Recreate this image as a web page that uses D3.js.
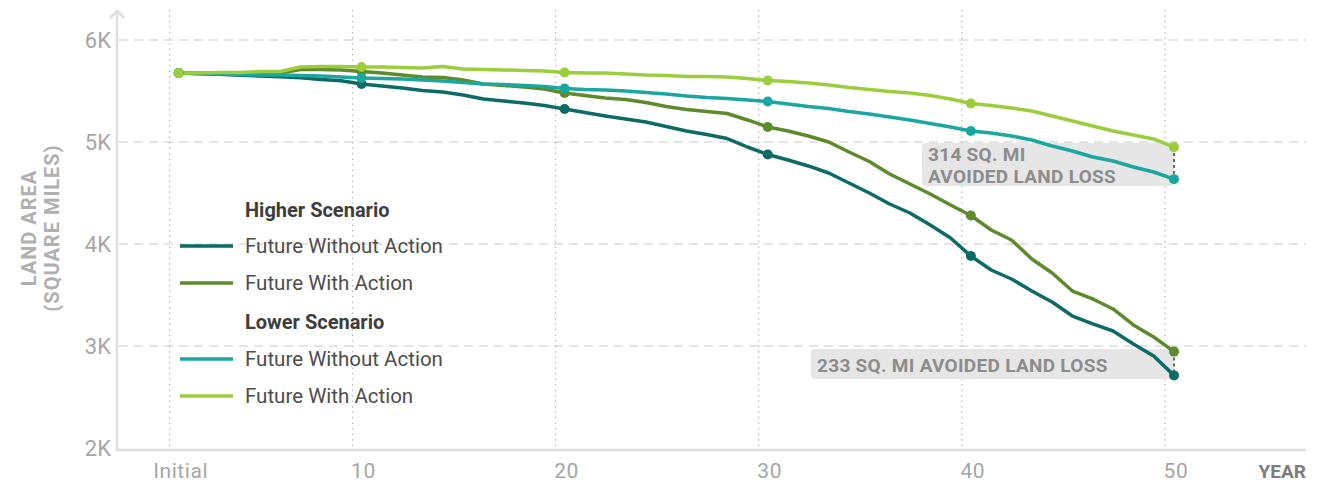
<!DOCTYPE html>
<html><head><meta charset="utf-8">
<script src="https://cdn.jsdelivr.net/npm/d3@7"></script>
<style>
html,body{margin:0;padding:0;background:#fff;}
svg{display:block;font-family:Roboto,"Open Sans",sans-serif;}
</style></head>
<body><svg id="chart" width="1320" height="486"></svg>
<script>
const years = d3.range(1, 51);
const markerYears = [1, 10, 20, 30, 40, 50];
const xTickLabels = ["Initial", "10", "20", "30", "40", "50"];
const yTicks = [2000, 3000, 4000, 5000, 6000];
const yTickLabels = ["2K", "3K", "4K", "5K", "6K"];

const higherWithout = [5676,5670,5664,5655,5648,5640,5630,5612,5600,5569,
  5549,5529,5505,5490,5461,5422,5402,5382,5358,5324,
  5289,5255,5225,5196,5152,5108,5074,5034,4951,4877,
  4824,4765,4696,4598,4500,4392,4304,4186,4059,3882,
  3745,3657,3539,3431,3294,3216,3147,3020,2902,2712];
const higherWith = [5676,5676,5676,5676,5681,5676,5711,5711,5706,5691,
  5676,5657,5637,5632,5608,5569,5554,5539,5520,5480,
  5456,5431,5417,5387,5348,5319,5299,5279,5216,5147,
  5108,5059,5000,4902,4809,4686,4588,4490,4382,4279,
  4137,4039,3853,3716,3539,3461,3363,3206,3088,2945];
const lowerWithout = [5676,5671,5667,5662,5657,5657,5652,5647,5637,5627,
  5622,5618,5608,5598,5583,5569,5564,5554,5544,5525,
  5515,5510,5500,5485,5471,5451,5436,5426,5412,5397,
  5373,5348,5328,5299,5275,5245,5216,5181,5147,5108,
  5088,5059,5020,4961,4912,4853,4814,4755,4706,4636];
const lowerWith = [5676,5676,5681,5681,5691,5691,5735,5740,5740,5735,
  5735,5730,5725,5740,5716,5711,5706,5701,5696,5681,
  5676,5676,5667,5657,5652,5642,5642,5637,5622,5603,
  5593,5578,5559,5534,5515,5495,5480,5456,5422,5377,
  5358,5333,5304,5255,5206,5157,5108,5069,5030,4950];

const seriesNames = ["Higher Without","Higher With","Lower Without","Lower With"];
const seriesColors = ["#0d6b66","#5d8a2b","#19a7a0","#9ccd3c"];
const legendGroups = ["Higher Scenario","Lower Scenario"];
const legendLabels = ["Future Without Action","Future With Action"];
const annotations = [
  {lines:["314 SQ. MI","AVOIDED LAND LOSS"], top:3, bottom:2},
  {lines:["233 SQ. MI AVOIDED LAND LOSS"], top:1, bottom:0}
];

const allSeries = [higherWithout, higherWith, lowerWithout, lowerWith];

const svg = d3.select("#chart");
const x = d3.scaleLinear().domain([1, 50]).range([178.7, 1174]);
const y = d3.scaleLinear().domain([2000, 6000]).range([448, 40]);

// horizontal dashed gridlines
svg.append("g").selectAll("line").data(yTicks.filter(d => d > 2000)).join("line")
  .attr("x1", 119).attr("x2", 1306)
  .attr("y1", d => y(d)).attr("y2", d => y(d))
  .attr("stroke", "#dcdcdc").attr("stroke-width", 1.5).attr("stroke-dasharray", "9,6");

// vertical dotted gridlines (offset left of the tick)
svg.append("g").selectAll("line").data(markerYears).join("line")
  .attr("x1", d => x(d) - 9).attr("x2", d => x(d) - 9)
  .attr("y1", 10).attr("y2", 449)
  .attr("stroke", "#b8b8b8").attr("stroke-width", 1.2).attr("stroke-dasharray", "1.5,4");

// axes lines
svg.append("line").attr("x1", 117).attr("x2", 117).attr("y1", 11).attr("y2", 451)
  .attr("stroke", "#dedede").attr("stroke-width", 2.5);
svg.append("path").attr("d", "M110,18 L117,11 L124,18").attr("fill", "none")
  .attr("stroke", "#dedede").attr("stroke-width", 2.5);
svg.append("line").attr("x1", 116).attr("x2", 1306).attr("y1", 450).attr("y2", 450)
  .attr("stroke", "#dedede").attr("stroke-width", 2.5);

// y tick labels
svg.append("g").selectAll("text").data(yTicks).join("text")
  .attr("x", 111).attr("y", d => y(d) + 8)
  .attr("text-anchor", "end").attr("font-size", 22).attr("fill", "#a6a6a6")
  .text((d, i) => yTickLabels[i]);

// x tick labels
svg.append("g").selectAll("text").data(markerYears).join("text")
  .attr("x", d => x(d) + 2).attr("y", 478)
  .attr("text-anchor", "middle").attr("font-size", 21).attr("fill", "#a6a6a6")
  .attr("letter-spacing", 0.6)
  .text((d, i) => xTickLabels[i]);
svg.append("text").attr("x", 1306).attr("y", 478).attr("text-anchor", "end")
  .attr("font-size", 19).attr("font-weight", 700).attr("fill", "#7d7d7d").text("YEAR");

// y axis title
const yt = svg.append("text").attr("transform", "translate(36,228) rotate(-90)")
  .attr("text-anchor", "middle").attr("font-size", 20).attr("font-weight", 700).attr("fill", "#b0b0b0")
  .attr("letter-spacing", 1);
yt.append("tspan").attr("x", 0).attr("dy", 0).text("LAND AREA");
yt.append("tspan").attr("x", 0).attr("dy", 23).text("(SQUARE MILES)");

// annotation boxes
const ann = svg.append("g");
annotations.forEach(a => {
  const yTop = y(allSeries[a.top][49]);
  const yBot = y(allSeries[a.bottom][49]);
  const two = a.lines.length === 2;
  const bx = two ? 922 : 811;
  const by = two ? y(5000) + 1 : y(3000) + 3;
  const bh = two ? 43 : 30;
  ann.append("rect").attr("x", bx).attr("y", by).attr("width", x(50) - bx).attr("height", bh)
    .attr("rx", 4).attr("fill", "#e6e6e6");
  a.lines.forEach((t, i) => {
    ann.append("text").attr("x", bx + 6).attr("y", by + (two ? 18 + i * 22 : 23))
      .attr("font-size", 19).attr("font-weight", 700).attr("fill", "#8c8c8c")
      .attr("letter-spacing", 0.3).text(t);
  });
  ann.append("line").attr("x1", x(50)).attr("x2", x(50)).attr("y1", yTop).attr("y2", yBot)
    .attr("stroke", "#6a6a6a").attr("stroke-width", 2).attr("stroke-dasharray", "3,3");
});

// lines
const line = d3.line().x((d, i) => x(years[i])).y(d => y(d));
const lg = svg.append("g");
allSeries.forEach((s, k) => {
  lg.append("path").datum(s).attr("d", line).attr("fill", "none")
    .attr("stroke", seriesColors[k]).attr("stroke-width", 3.5)
    .attr("stroke-linejoin", "round").attr("stroke-linecap", "round");
});
allSeries.forEach((s, k) => {
  lg.append("g").selectAll("circle").data(markerYears).join("circle")
    .attr("cx", d => x(d)).attr("cy", d => y(s[d - 1])).attr("r", 5)
    .attr("fill", seriesColors[k]);
});

// legend
const leg = svg.append("g");
const rows = [
  {type:"h", text:legendGroups[0], y:217},
  {type:"l", text:legendLabels[0], y:246, c:0},
  {type:"l", text:legendLabels[1], y:283, c:1},
  {type:"h", text:legendGroups[1], y:329},
  {type:"l", text:legendLabels[0], y:359, c:2},
  {type:"l", text:legendLabels[1], y:396, c:3}
];
rows.forEach(r => {
  if (r.type === "h") {
    leg.append("text").attr("x", 245).attr("y", r.y).attr("font-size", 20)
      .attr("font-weight", 700).attr("fill", "#3d3d3d").text(r.text);
  } else {
    leg.append("line").attr("x1", 180).attr("x2", 233).attr("y1", r.y).attr("y2", r.y)
      .attr("stroke", seriesColors[r.c]).attr("stroke-width", 3.5);
    leg.append("text").attr("x", 245).attr("y", r.y + 7).attr("font-size", 20.5)
      .attr("fill", "#4d4d4d").text(r.text);
  }
});
</script></body></html>
